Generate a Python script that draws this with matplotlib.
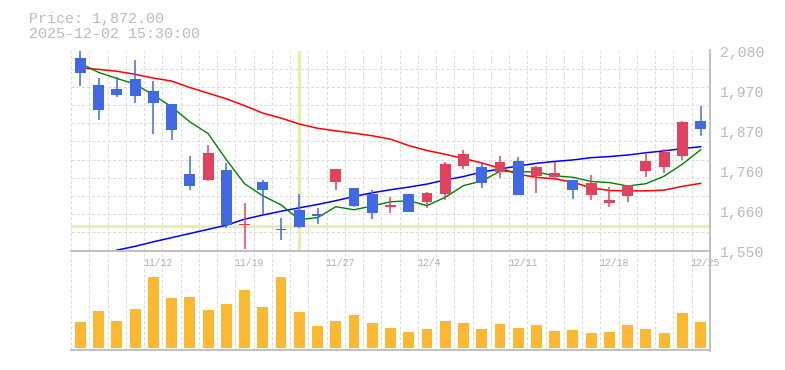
import matplotlib
matplotlib.use('Agg')
import matplotlib.pyplot as plt
import numpy as np
from matplotlib.lines import Line2D
from matplotlib.transforms import blended_transform_factory, ScaledTranslation

# ---------------- data ----------------
dates = ['11/6', '11/7', '11/10', '11/11', '11/12', '11/13', '11/14', '11/17', '11/18', '11/19',
         '11/20', '11/21', '11/25', '11/26', '11/27', '11/28', '12/1', '12/2', '12/3', '12/4',
         '12/5', '12/8', '12/9', '12/10', '12/11', '12/12', '12/15', '12/16', '12/17', '12/18',
         '12/19', '12/22', '12/23', '12/24', '12/25']

opens = [2059, 1989, 1978, 2004, 1973, 1938, 1753, 1737, 1763, 1617,
         1732, 1608, 1656, 1647, 1732, 1716, 1700, 1665, 1700, 1679,
         1701, 1775, 1771, 1759, 1787, 1747, 1744, 1737, 1697, 1676,
         1694, 1761, 1770, 1801, 1893]
highs = [2080, 2007, 2009, 2055, 1999, 1939, 1800, 1830, 1782, 1676,
         1737, 1636, 1700, 1663, 1766, 1716, 1710, 1692, 1700, 1705,
         1784, 1816, 1784, 1801, 1798, 1773, 1784, 1738, 1750, 1717,
         1724, 1806, 1819, 1892, 1933]
lows = [1987, 1897, 1958, 1942, 1860, 1844, 1711, 1735, 1610, 1553,
        1646, 1579, 1610, 1620, 1709, 1665, 1634, 1650, 1653, 1663,
        1685, 1767, 1716, 1743, 1697, 1703, 1736, 1686, 1685, 1665,
        1679, 1745, 1755, 1790, 1854]
closes = [2021, 1923, 1963, 1960, 1942, 1868, 1722, 1808, 1617, 1620,
          1709, 1603, 1612, 1641, 1766, 1669, 1650, 1671, 1653, 1702,
          1779, 1806, 1730, 1785, 1697, 1771, 1756, 1710, 1729, 1684,
          1724, 1787, 1811, 1890, 1872]
volumes = [78, 111, 81, 117, 213, 150, 153, 114, 132, 174,
           123, 213, 108, 66, 81, 99, 75, 60, 48, 57,
           81, 75, 57, 72, 60, 69, 51, 54, 45, 48,
           69, 57, 45, 105, 78]  # thousand shares

ma_short = [2046, 2022, 2006, 1991, 1962, 1931, 1891, 1860, 1791, 1727,
            1695, 1671, 1632, 1637, 1666, 1658, 1668, 1679, 1682, 1669,
            1691, 1722, 1734, 1760, 1759, 1758, 1748, 1744, 1733, 1730,
            1721, 1727, 1747, 1779, 1817]
ma_mid = [2034, 2030, 2025, 2017, 2007, 1999, 1982, 1967, 1952, 1934,
          1914, 1901, 1885, 1874, 1867, 1861, 1854, 1845, 1828, 1815,
          1805, 1794, 1782, 1768, 1752, 1744, 1740, 1731, 1716, 1709,
          1708, 1708, 1710, 1720, 1728]
ma_long = [np.nan, np.nan, 1551, 1561, 1573, 1584, 1595, 1606, 1617, 1633,
           1644, 1654, 1663, 1672, 1682, 1693, 1703, 1711, 1718, 1726,
           1737, 1746, 1758, 1766, 1774, 1781, 1786, 1790, 1796, 1799,
           1803, 1809, 1814, 1820, 1825]

label_dates = ['11/12', '11/19', '11/27', '12/4', '12/11', '12/18', '12/25']
ytick_vals = [1550, 1656, 1762, 1868, 1974, 2080]
ytick_text = ['1,550', '1,660', '1,760', '1,870', '1,970', '2,080']
price_min, price_max = 1550, 2080
cross_idx = 12
cross_price = 1614
header_time = '2025-12-02 15:30:00'

# ---------------- styles ----------------
UP = '#e0435f'
DOWN = '#4169e1'
VOLC = '#fdb833'
GRID = '#dcdcdc'
AXC = '#c0c0c0'
TXT = '#bbbbbb'
CROSS = '#e3f1a9'
FONT = 'Liberation Mono'

W, H = 785, 370
fig = plt.figure(figsize=(W / 100, H / 100), dpi=100)


def rect(l, t, r, b):
    return [l / W, 1 - b / H, (r - l) / W, (b - t) / H]


L, R = 71.2, 709.8
ax = fig.add_axes(rect(L, 50.5, R, 250.5))
axv = fig.add_axes(rect(L, 252, R, 350))

n = len(dates)
x = np.arange(n)
dash = (0, (3, 2))

for a in (ax, axv):
    a.set_xlim(-0.5, n - 0.5)
    a.set_xticks([])
    a.set_yticks([])
    for s in a.spines.values():
        s.set_visible(False)
    a.spines['bottom'].set_visible(True)
    a.spines['bottom'].set_color(AXC)
    a.spines['bottom'].set_linewidth(1.4)
    for i in range(n):
        a.axvline(i - 0.5, color=GRID, lw=0.75, linestyle=dash, zorder=0.5)

ax.set_ylim(price_min, price_max)
step = (price_max - price_min) / 11
for k in range(11):
    ax.axhline(price_max - k * step, color=GRID, lw=0.75, linestyle=dash, zorder=0.5)

# crosshair
ax.axvline(cross_idx, color=CROSS, lw=2.4, zorder=1)
ax.axhline(cross_price, color=CROSS, lw=2.2, zorder=1)

# moving averages
ax.plot(x, ma_mid, color='#ff0000', lw=1.1, zorder=2)
ax.plot(x, ma_long, color='#0000ff', lw=1.1, zorder=2)
ax.plot(x, ma_short, color='#008000', lw=1.0, zorder=2)

# candles
o = np.array(opens, float)
c = np.array(closes, float)
hi = np.array(highs, float)
lo = np.array(lows, float)
cols = [UP if cc >= oo else DOWN for oo, cc in zip(o, c)]
ax.vlines(x, lo, hi, colors=cols, lw=1.1, zorder=3)
body_h = np.maximum(np.abs(c - o), 2.0)
ax.bar(x, body_h, bottom=np.minimum(o, c), width=0.6, color=cols, lw=0, zorder=4)

# volume
axv.set_ylim(-6, 287)
axv.bar(x, volumes, width=0.6, color=VOLC, lw=0, zorder=2)

# right spine across both panels
fig.add_artist(Line2D([R / W, R / W], [1 - 50 / H, 1 - 351 / H], transform=fig.transFigure,
                      color=AXC, lw=1.4))

# price labels
for v, t in zip(ytick_vals, ytick_text):
    tr = ax.get_yaxis_transform() + ScaledTranslation(10 / 100, -7 / 100, fig.dpi_scale_trans)
    ax.text(1.0, v, t, transform=tr, ha='left', va='baseline', fontsize=10.6,
            color=TXT, family=FONT, clip_on=False)

# date labels
btr = blended_transform_factory(axv.transData, axv.transAxes)
for d in label_dates:
    i = dates.index(d)
    axv.text(i - 0.55, (350 - 266) / 98, d, transform=btr, ha='left', va='baseline',
             fontsize=7.1, color='#b0b0b0', family=FONT, clip_on=False, zorder=5)

# header
fig.text(29.3 / W, 1 - 23.3 / H, f'Price: {closes[-1]:,.2f}', family=FONT, fontsize=10.8,
         color=TXT, va='baseline', ha='left')
fig.text(29.3 / W, 1 - 38 / H, header_time, family=FONT, fontsize=10.8,
         color=TXT, va='baseline', ha='left')

fig.savefig('out.png', dpi=100, facecolor='white')
